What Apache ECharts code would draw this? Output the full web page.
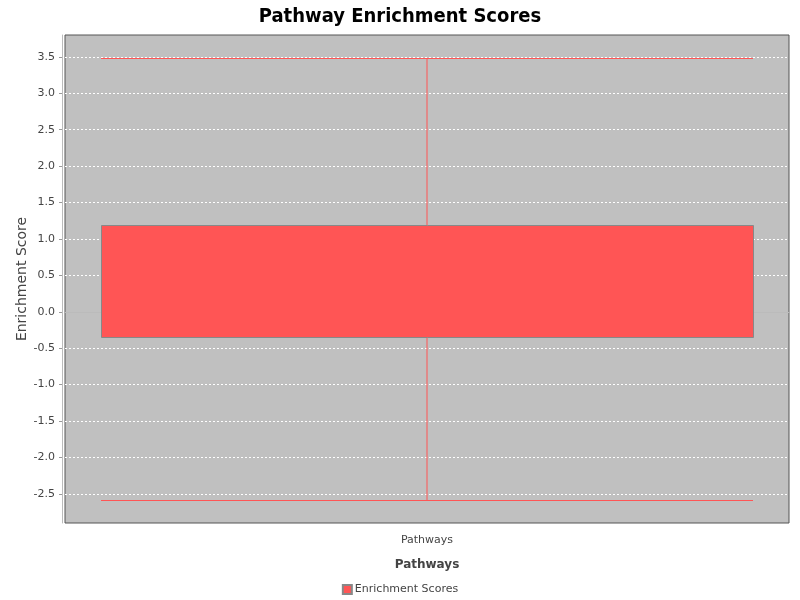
<!DOCTYPE html>
<html>
<head>
<meta charset="utf-8">
<title>Pathway Enrichment Scores</title>
<script src="https://cdn.jsdelivr.net/npm/echarts@6/dist/echarts.min.js"></script>
<style>
  html, body { margin: 0; padding: 0; background: #fff; }
  #chart { width: 800px; height: 600px; }
</style>
</head>
<body>
<div id="chart"></div>
<script>
// Box plot: one category
const categories = ['Pathways'];
const seriesName = 'Enrichment Scores';
const lowValues = [-2.58];
const q1Values = [-0.34];
const q3Values = [1.19];
const highValues = [3.49];

const COLORS = {
  plot: '#c0c0c0',
  plotBorder: '#555555',
  axis: '#bbbbbb',
  text: '#444444',
  box: '#ff5555',
  boxBorder: '#888888',
};

const FONT = 'DejaVu Sans, sans-serif';

const boxData = categories.map((c, i) => [i, lowValues[i], q1Values[i], q3Values[i], highValues[i]]);

// keep 1px lines crisp
const snapY = v => Math.round(v) + 0.5;

function renderBox(params, api) {
  const cat = api.value(0);
  const x = Math.round(api.coord([cat, 0])[0]);
  const w = Math.round(api.size([1, 0])[0] * 0.9);
  const yLow = snapY(api.coord([cat, api.value(1)])[1]);
  const yQ1 = snapY(api.coord([cat, api.value(2)])[1]);
  const yQ3 = snapY(api.coord([cat, api.value(3)])[1]);
  const yHigh = snapY(api.coord([cat, api.value(4)])[1]);
  const x0 = Math.round(x - w / 2), x1 = Math.round(x + w / 2);
  const whisker = { stroke: COLORS.box, lineWidth: 1 };
  return {
    type: 'group',
    children: [
      { type: 'line', shape: { x1: x0, y1: yHigh, x2: x1, y2: yHigh }, style: whisker },
      { type: 'line', shape: { x1: x, y1: yHigh, x2: x, y2: yQ3 }, style: whisker },
      { type: 'line', shape: { x1: x, y1: yQ1, x2: x, y2: yLow }, style: whisker },
      { type: 'line', shape: { x1: x0, y1: yLow, x2: x1, y2: yLow }, style: whisker },
      {
        type: 'rect',
        shape: { x: x0 + 0.5, y: yQ3, width: x1 - x0, height: yQ1 - yQ3 },
        style: { fill: COLORS.box, stroke: COLORS.boxBorder, lineWidth: 1 },
      },
    ],
  };
}

const chart = echarts.init(document.getElementById('chart'), null, { renderer: 'canvas' });

chart.setOption({
  backgroundColor: '#ffffff',
  animation: false,
  title: {
    text: 'Pathway Enrichment Scores',
    left: 'center',
    top: 2,
    textStyle: { fontFamily: 'DejaVu Sans Condensed, DejaVu Sans, sans-serif', fontWeight: 'bold', fontSize: 20, color: '#000' },
  },
  legend: {
    top: 579,
    left: 'center',
    icon: 'rect',
    itemWidth: 9,
    itemHeight: 9,
    itemGap: 4,
    data: [seriesName],
    textStyle: { fontFamily: FONT, fontSize: 11, color: COLORS.text, padding: [0, 0, 0, -2] },
  },
  grid: {
    left: 65, right: 11, top: 35, bottom: 77,
    show: true,
    backgroundColor: COLORS.plot,
    borderColor: COLORS.plotBorder,
    borderWidth: 1,
  },
  xAxis: {
    type: 'category',
    data: categories,
    offset: 4,
    name: 'Pathways',
    nameLocation: 'middle',
    nameGap: 32,
    nameMoveOverlap: false,
    nameTextStyle: { fontFamily: FONT, fontSize: 12, fontWeight: 'bold', color: COLORS.text },
    axisLine: { show: true, lineStyle: { color: COLORS.axis } },
    axisTick: { show: true, alignWithLabel: true, length: 3, lineStyle: { color: '#999' } },
    axisLabel: { fontFamily: FONT, fontSize: 11, color: COLORS.text, margin: 8 },
    splitLine: { show: false },
  },
  yAxis: {
    type: 'value',
    min: -2.9,
    max: 3.8,
    splitNumber: 13,
    offset: 3,
    name: 'Enrichment Score',
    nameLocation: 'middle',
    nameRotate: 90,
    nameGap: 33,
    nameMoveOverlap: false,
    nameTextStyle: { fontFamily: FONT, fontSize: 14, color: COLORS.text },
    axisLine: { show: true, lineStyle: { color: COLORS.axis } },
    axisTick: { show: true, length: 3, lineStyle: { color: '#999' } },
    axisLabel: {
      fontFamily: FONT, fontSize: 11, color: COLORS.text, margin: 7,
      showMinLabel: false, showMaxLabel: false,
      formatter: v => v.toFixed(1),
    },
    splitLine: {
      show: true, showMinLine: false, showMaxLine: false,
      lineStyle: { color: '#ffffff', type: [2, 2], width: 1 },
    },
  },
  series: [
    {
      name: seriesName,
      type: 'custom',
      renderItem: renderBox,
      itemStyle: { color: COLORS.box, borderColor: COLORS.boxBorder, borderWidth: 1 },
      encode: { x: 0, y: [1, 2, 3, 4] },
      data: boxData,
      z: 3,
    },
  ],
});
</script>
</body>
</html>
